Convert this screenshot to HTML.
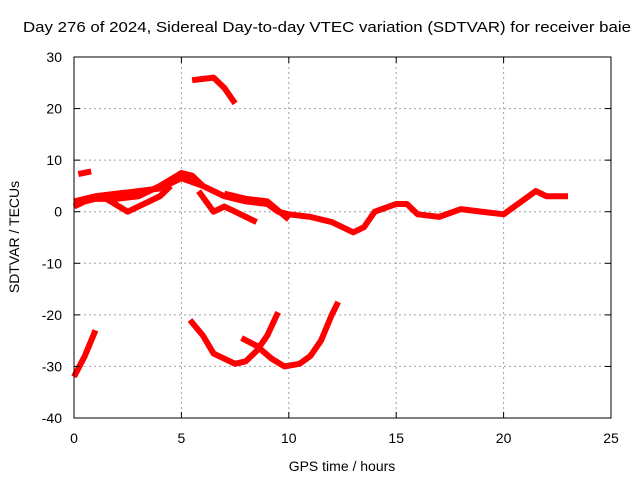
<!DOCTYPE html>
<html><head><meta charset="utf-8"><style>
body{margin:0;background:#fff}
svg text{font-family:"Liberation Sans",sans-serif;font-size:14px;fill:#000}
</style></head><body>
<svg id="chart" width="640" height="480">
<rect width="640" height="480" fill="#fff"/>
<text x="327" y="32" text-anchor="middle" textLength="608" lengthAdjust="spacingAndGlyphs" style="font-size:15px">Day 276 of 2024, Sidereal Day-to-day VTEC variation (SDTVAR) for receiver baie</text>
<text x="342" y="471" text-anchor="middle">GPS time / hours</text>
<text transform="translate(19,237) rotate(-90)" text-anchor="middle">SDTVAR / TECUs</text>
<g id="grid"></g><g id="series"></g>
<rect x="74" y="57" width="537" height="361" fill="none" stroke="#000" stroke-width="1"/>
<g id="ticks"></g>
</svg>
<script>
const xTicks=[0,5,10,15,20,25];
const yTicks=[30,20,10,0,-10,-20,-30,-40];
const seriesMain=[[0,1],[0.5,2],[1,2.5],[2,2.5],[3,3],[4,5],[5,7.5],[5.5,7],[6,5],[7,3],[8,2],[9,1.5],[9.5,0],[10,-0.5],[11,-1],[12,-2],[12.5,-3],[13,-4],[13.5,-3],[14,0],[15,1.5],[15.5,1.5],[16,-0.5],[17,-1],[18,0.5],[19,0],[20,-0.5],[21,2.5],[21.5,4],[22,3],[23,3]];
const seriesB=[[0,2],[1,3],[2,3.5],[3,4],[4,4.5],[5,6.5],[6,5]];
const seriesC=[[1.5,2.5],[2.5,0],[3,1],[4,3],[4.5,5]];
const seriesD=[[0.2,7.3],[0.8,7.8]];
const seriesE=[[5.8,4],[6.5,0],[7,1],[7.5,0],[8,-1],[8.5,-2]];
const seriesF=[[7,3.5],[8,2.5],[9,2],[10,-1.5]];
const seriesG=[[5.5,25.5],[6.5,26],[7,24],[7.5,21]];
const seriesH=[[0,-32],[0.5,-28],[1,-23]];
const seriesI=[[5.4,-21],[6,-24],[6.5,-27.5],[7,-28.5],[7.5,-29.5],[8,-29],[8.5,-27],[9,-24],[9.5,-19.5]];
const seriesJ=[[7.8,-24.5],[8.5,-26],[9.2,-28.5],[9.8,-30],[10.5,-29.5],[11,-28],[11.5,-25],[12,-20],[12.3,-17.5]];
const allSeries=[seriesMain,seriesB,seriesC,seriesD,seriesE,seriesF,seriesG,seriesH,seriesI,seriesJ];
const X=v=>74+v*537/25, Y=v=>57+(30-v)*361/70;
const NS='http://www.w3.org/2000/svg';
const grid=document.getElementById('grid'),ticks=document.getElementById('ticks'),ser=document.getElementById('series');
function mk(t,a,p){const e=document.createElementNS(NS,t);for(const k in a)e.setAttribute(k,a[k]);p.appendChild(e);return e;}
xTicks.forEach(t=>{
 if(t>0&&t<25){const g=mk('line',{x1:X(t),x2:X(t),y1:57,y2:418,stroke:'#a0a0a0','stroke-dasharray':'2,3'},grid);
 
 }
 mk('line',{x1:X(t),x2:X(t),y1:418,y2:412,stroke:'#000'},ticks);
 mk('line',{x1:X(t),x2:X(t),y1:57,y2:63,stroke:'#000'},ticks);
 const l=mk('text',{x:X(t),y:443,'text-anchor':'middle'},ticks);l.textContent=t;
 
 
});
yTicks.forEach(t=>{
 if(t<30&&t>-40){const g=mk('line',{x1:74,x2:611,y1:Y(t),y2:Y(t),stroke:'#a0a0a0','stroke-dasharray':'2,3'},grid);
 
 }
 mk('line',{x1:74,x2:80,y1:Y(t),y2:Y(t),stroke:'#000'},ticks);
 mk('line',{x1:605,x2:611,y1:Y(t),y2:Y(t),stroke:'#000'},ticks);
 const l=mk('text',{x:62,y:Y(t)+5,'text-anchor':'end'},ticks);l.textContent=t;
 
 
});
allSeries.forEach((s,i)=>{
 const p=mk('polyline',{points:s.map(d=>X(d[0])+','+Y(d[1])).join(' '),fill:'none',stroke:'#ff0000','stroke-width':6,'stroke-linejoin':'round','stroke-linecap':'butt'},ser);
 
 
});
</script>
</body></html>
